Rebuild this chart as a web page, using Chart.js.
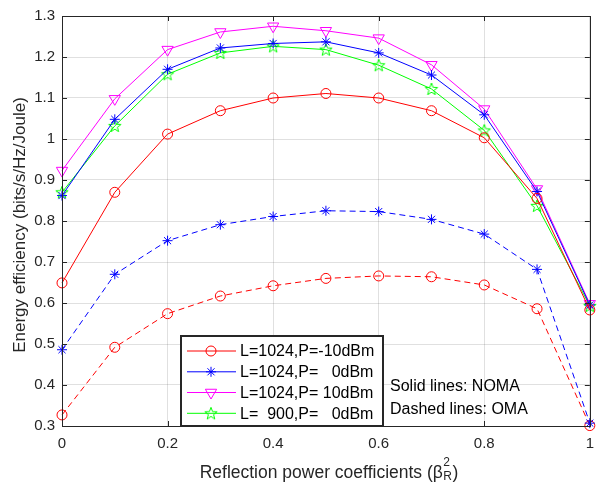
<!DOCTYPE html>
<html>
<head>
<meta charset="utf-8">
<script src="https://cdn.jsdelivr.net/npm/chart.js@4.4.0/dist/chart.umd.min.js"></script>
<style>
  html, body { margin: 0; padding: 0; background: #fff; }
  #wrap { width: 603px; height: 487px; }
</style>
</head>
<body>
<div id="wrap"><canvas id="eeChart" width="603" height="487"></canvas></div>
<script>
// reflection power coefficient (beta_R^2)
const beta = [0, 0.1, 0.2, 0.3, 0.4, 0.5, 0.6, 0.7, 0.8, 0.9, 1];

// NOMA - solid lines
const nomaL1024Pm10 = [0.649, 0.870, 1.012, 1.069, 1.100, 1.111, 1.100, 1.069, 1.003, 0.855, 0.583];
const nomaL1024P0   = [0.862, 1.048, 1.170, 1.222, 1.233, 1.237, 1.210, 1.156, 1.059, 0.872, 0.595];
const nomaL1024P10  = [0.923, 1.098, 1.218, 1.261, 1.275, 1.264, 1.246, 1.181, 1.073, 0.878, 0.598];
const nomaL900P0    = [0.870, 1.032, 1.158, 1.210, 1.226, 1.218, 1.180, 1.122, 1.021, 0.837, 0.593];

// OMA - dashed lines
const omaL1024P0    = [0.486, 0.670, 0.752, 0.791, 0.811, 0.825, 0.823, 0.804, 0.768, 0.682, 0.307];
const omaL1024Pm10  = [0.327, 0.492, 0.574, 0.617, 0.642, 0.660, 0.666, 0.664, 0.644, 0.586, 0.301];

const xTicks = [0, 0.2, 0.4, 0.6, 0.8, 1];
const yTicks = [0.3, 0.4, 0.5, 0.6, 0.7, 0.8, 0.9, 1.0, 1.1, 1.2, 1.3];

const legendLabels = ['L=1024,P=-10dBm', 'L=1024,P=   0dBm', 'L=1024,P= 10dBm', 'L=  900,P=   0dBm'];

const FONT = "'Liberation Sans', Arial, Helvetica, sans-serif";
const AXIS_COLOR = '#262626';

// MATLAB style pentagram marker
function makePentagram(color) {
    const c = document.createElement('canvas');
    c.width = 16; c.height = 16;
    const g = c.getContext('2d');
    g.strokeStyle = color;
    g.lineWidth = 1;
    g.beginPath();
    for (let i = 0; i < 10; i++) {
        const r = i % 2 === 0 ? 6.5 : 2.7;
        const ang = -Math.PI / 2 + i * Math.PI / 5;
        const px = 8 + r * Math.cos(ang), py = 8.5 + r * Math.sin(ang);
        if (i === 0) g.moveTo(px, py); else g.lineTo(px, py);
    }
    g.closePath();
    g.stroke();
    return c;
}
const pentagramGreen = makePentagram('#00ff00');

function toPoints(arr) {
    return arr.map((v, i) => ({ x: beta[i], y: v }));
}

function series(label, values, color, style, radius, rotation, dashed) {
    return {
        label: label,
        data: toPoints(values),
        borderColor: color,
        backgroundColor: 'rgba(0,0,0,0)',
        borderWidth: 1,
        borderDash: dashed ? [6, 4] : [],
        pointStyle: style,
        pointRadius: radius,
        pointRotation: rotation,
        pointBorderColor: color,
        pointBackgroundColor: 'rgba(0,0,0,0)',
        pointBorderWidth: 1,
        tension: 0,
        fill: false,
        clip: false
    };
}

const datasets = [
    series(legendLabels[0], nomaL1024Pm10, '#ff0000', 'circle', 5, 0, false),
    series(legendLabels[1], nomaL1024P0, '#0000ff', 'star', 5, 0, false),
    series(legendLabels[2], nomaL1024P10, '#ff00ff', 'triangle', 6.5, 180, false),
    series(legendLabels[3], nomaL900P0, '#00ff00', pentagramGreen, 6, 0, false),
    series('OMA L=1024,P=0dBm', omaL1024P0, '#0000ff', 'star', 5, 0, true),
    series('OMA L=1024,P=-10dBm', omaL1024Pm10, '#ff0000', 'circle', 5, 0, true)
];

// box around axes with inward ticks
const boxPlugin = {
    id: 'boxTicks',
    afterDatasetsDraw(chart) {
        const { ctx, chartArea: a, scales: { x, y } } = chart;
        ctx.save();
        ctx.strokeStyle = AXIS_COLOR;
        ctx.lineWidth = 1;
        ctx.beginPath();
        xTicks.forEach(v => {
            const px = Math.round(x.getPixelForValue(v)) + 0.5;
            ctx.moveTo(px, a.bottom); ctx.lineTo(px, a.bottom - 5);
            ctx.moveTo(px, a.top); ctx.lineTo(px, a.top + 5);
        });
        yTicks.forEach(v => {
            const py = Math.round(y.getPixelForValue(v)) + 0.5;
            ctx.moveTo(a.left, py); ctx.lineTo(a.left + 5, py);
            ctx.moveTo(a.right, py); ctx.lineTo(a.right - 5, py);
        });
        ctx.stroke();
        ctx.strokeRect(Math.round(a.left) + 0.5, Math.round(a.top) + 0.5,
            Math.round(a.right - a.left), Math.round(a.bottom - a.top));
        ctx.restore();
    }
};

// legend box, notes and axis titles
const overlayPlugin = {
    id: 'overlay',
    afterDraw(chart) {
        const { ctx, chartArea: a } = chart;
        ctx.save();

        // legend
        const bx = 181, by = 336, bw = 202, bh = 90;
        ctx.fillStyle = '#fff';
        ctx.fillRect(bx, by, bw, bh);
        ctx.strokeStyle = AXIS_COLOR;
        ctx.lineWidth = 2;
        ctx.strokeRect(bx, by, bw, bh);
        const rows = [351, 371.8, 392.5, 413.3];
        ctx.font = '16px ' + FONT;
        ctx.textBaseline = 'middle';
        for (let i = 0; i < 4; i++) {
            const ds = chart.data.datasets[i];
            const ry = rows[i];
            ctx.strokeStyle = ds.borderColor;
            ctx.lineWidth = 1;
            ctx.beginPath();
            ctx.moveTo(187, ry); ctx.lineTo(236, ry);
            ctx.stroke();
            ctx.fillStyle = 'rgba(0,0,0,0)';
            Chart.helpers.drawPoint(ctx, {
                pointStyle: ds.pointStyle, radius: ds.pointRadius,
                rotation: ds.pointRotation, borderWidth: 1
            }, 211, ry);
            ctx.fillStyle = '#000';
            ctx.textAlign = 'left';
            ctx.fillText(ds.label, 240, ry + 1);
        }

        // notes
        ctx.fillStyle = '#000';
        ctx.font = '16px ' + FONT;
        ctx.textAlign = 'left';
        ctx.textBaseline = 'alphabetic';
        ctx.fillText('Solid lines: NOMA', 390, 391);
        ctx.fillText('Dashed lines: OMA', 390, 414);

        // y title
        ctx.fillStyle = AXIS_COLOR;
        ctx.font = '17px ' + FONT;
        ctx.save();
        ctx.translate(25, 225);
        ctx.rotate(-Math.PI / 2);
        ctx.textAlign = 'center';
        ctx.fillText('Energy efficiency (bits/s/Hz/Joule)', 0, 0);
        ctx.restore();

        // x title with beta_R^2
        const main = 'Reflection power coefficients (\u03B2';
        const bigFont = '17.5px ' + FONT, smallFont = '12px ' + FONT;
        ctx.font = bigFont;
        const wMain = ctx.measureText(main).width;
        ctx.font = smallFont;
        const wSub = Math.max(ctx.measureText('2').width, ctx.measureText('R').width);
        ctx.font = bigFont;
        const wEnd = ctx.measureText(')').width;
        const total = wMain + wSub + 1 + wEnd;
        let tx = 329 - total / 2;
        const base = 478;
        ctx.textAlign = 'left';
        ctx.fillText(main, tx, base);
        tx += wMain + 0.5;
        ctx.font = smallFont;
        ctx.fillText('2', tx, base - 12);
        ctx.fillText('R', tx, base + 2);
        tx += wSub + 0.5;
        ctx.font = bigFont;
        ctx.fillText(')', tx, base);

        ctx.restore();
    }
};

const gridColor = 'rgba(38,38,38,0.14)';

const ctx = document.getElementById('eeChart').getContext('2d');
new Chart(ctx, {
    type: 'line',
    data: { datasets: datasets },
    options: {
        responsive: false,
        animation: false,
        layout: { padding: { top: 11, right: 6, left: 0, bottom: 0 } },
        plugins: {
            legend: { display: false },
            title: { display: false },
            tooltip: { enabled: false }
        },
        scales: {
            x: {
                type: 'linear',
                min: 0,
                max: 1,
                afterBuildTicks: s => { s.ticks = xTicks.map(v => ({ value: v })); },
                afterFit: s => { s.height = 61; },
                ticks: {
                    color: AXIS_COLOR,
                    font: { family: FONT, size: 15 },
                    padding: 9,
                    maxRotation: 0,
                    callback: v => String(+(+v).toFixed(1))
                },
                grid: { color: gridColor, drawTicks: false },
                border: { display: false }
            },
            y: {
                type: 'linear',
                min: 0.3,
                max: 1.3,
                afterBuildTicks: s => { s.ticks = yTicks.map(v => ({ value: v })); },
                afterFit: s => { s.width = 62; },
                ticks: {
                    color: AXIS_COLOR,
                    font: { family: FONT, size: 15 },
                    padding: 7,
                    callback: v => String(+(+v).toFixed(1))
                },
                grid: { color: gridColor, drawTicks: false },
                border: { display: false }
            }
        }
    },
    plugins: [boxPlugin, overlayPlugin]
});
</script>
</body>
</html>
